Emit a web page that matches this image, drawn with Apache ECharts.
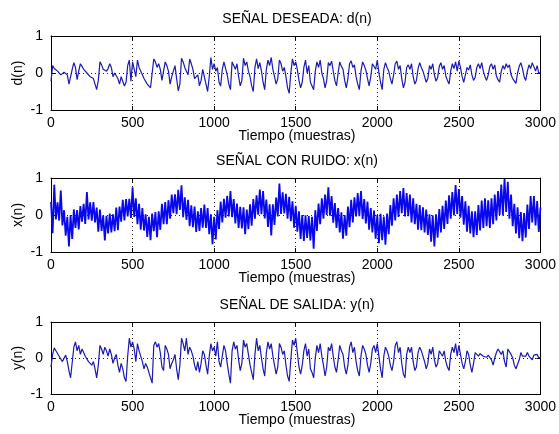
<!DOCTYPE html>
<html>
<head>
<meta charset="utf-8">
<script src="https://cdn.jsdelivr.net/npm/echarts@6/dist/echarts.min.js"></script>
<style>
  html, body { margin: 0; padding: 0; background: #fff; }
  #chart { width: 559px; height: 434px; }
</style>
</head>
<body>
<div id="chart"></div>
<script>
// muestras cada STEP puntos
const STEP = 10

const dVals = [
  -0.22, 0.20, 0.12, 0.15, 0.05, 0.08, -0.05, -0.10, 0.02, 0.05,
  -0.05, -0.30, -0.35, 0.10, 0.28, 0.15, -0.18, 0.05, 0.25, 0.18,
  0.10, 0.12, 0.00, -0.05, -0.10, -0.08, -0.15, -0.30, -0.45, -0.20,
  0.30, 0.22, 0.10, 0.15, 0.05, 0.12, 0.25, 0.15, -0.10, 0.00,
  0.05, -0.15, -0.30, -0.10, -0.05, -0.35, -0.25, 0.20, 0.35, -0.22,
  0.30, 0.25, -0.10, 0.35, 0.15, 0.10, -0.05, -0.15, -0.20, -0.30,
  -0.25, -0.40, -0.45, 0.38, 0.30, 0.15, 0.25, 0.10, -0.20, -0.25,
  0.30, 0.20, 0.05, -0.30, -0.10, -0.05, 0.20, -0.15, -0.48, -0.30,
  0.40, 0.30, 0.15, 0.05, -0.05, 0.38, 0.25, 0.10, -0.15, -0.20,
  -0.05, -0.35, -0.20, 0.10, 0.15, -0.30, -0.50, -0.10, 0.42, 0.10,
  0.25, 0.05, 0.15, -0.25, -0.35, 0.10, 0.30, 0.35, -0.05, -0.30,
  -0.45, 0.30, 0.20, 0.10, 0.25, -0.10, -0.35, -0.20, 0.40, 0.20,
  0.30, 0.05, -0.10, -0.35, -0.50, 0.15, 0.38, 0.12, 0.28, 0.05,
  -0.25, -0.45, 0.10, 0.35, 0.20, 0.42, 0.10, -0.10, -0.30, -0.15,
  0.35, 0.25, 0.05, 0.15, -0.10, -0.40, -0.55, 0.00, 0.38, 0.20,
  0.30, 0.10, -0.20, -0.40, -0.25, 0.15, 0.35, 0.00, 0.20, -0.25,
  -0.35, -0.45, 0.05, 0.30, 0.15, 0.35, 0.00, -0.15, -0.40, -0.20,
  0.28, 0.20, 0.32, 0.05, -0.20, -0.35, 0.00, 0.30, 0.18, 0.10,
  -0.20, -0.40, -0.15, 0.25, 0.33, 0.15, 0.22, -0.10, -0.30, -0.45,
  0.05, 0.30, 0.20, 0.08, -0.15, -0.35, -0.10, 0.25, 0.30, 0.10,
  0.35, 0.00, -0.25, -0.45, 0.10, 0.28, 0.15, 0.05, -0.15, -0.30,
  -0.05, 0.25, 0.32, 0.10, 0.20, -0.15, -0.40, -0.25, 0.15, 0.22,
  0.10, 0.25, -0.10, -0.30, -0.20, 0.12, 0.28, 0.15, 0.05, -0.10,
  -0.25, -0.15, 0.20, 0.10, 0.25, -0.05, -0.22, -0.12, 0.18, 0.28,
  0.10, 0.20, -0.08, -0.20, -0.30, 0.05, 0.25, 0.12, 0.30, 0.05,
  0.32, 0.15, -0.10, -0.25, -0.05, 0.15, 0.08, 0.22, -0.05, -0.20,
  -0.12, 0.15, 0.25, 0.12, 0.28, 0.05, -0.10, -0.20, -0.05, 0.18,
  0.25, 0.10, 0.22, -0.08, -0.18, -0.25, 0.05, 0.20, 0.10, 0.25,
  0.15, 0.22, -0.05, -0.15, -0.20, -0.28, 0.00, 0.18, 0.28, 0.12,
  -0.10, -0.20, 0.05, 0.22, 0.12, 0.28, 0.30, 0.05, 0.20, -0.02,
  0.02
]

const xVals = [
  0.35, -0.49, 0.82, -0.12, 0.34, -0.15, 0.66, -0.28, 0.13, -0.56,
  -0.05, -0.85, 0.00, -0.65, 0.15, -0.35, 0.13, -0.39, 0.24, -0.18,
  0.30, -0.24, 0.62, -0.12, 0.34, -0.15, 0.35, -0.20, 0.20, -0.45,
  0.15, -0.43, -0.01, -0.69, -0.02, -0.50, 0.04, -0.47, 0.02, -0.44,
  0.20, -0.41, 0.23, -0.18, 0.41, -0.15, 0.43, -0.04, 0.44, -0.08,
  0.75, -0.05, 0.45, -0.25, 0.30, -0.40, 0.19, -0.42, 0.02, -0.59,
  -0.05, -0.68, 0.04, -0.44, 0.08, -0.60, 0.10, -0.40, 0.30, -0.25,
  0.35, -0.25, 0.40, -0.10, 0.55, 0.05, 0.56, 0.02, 0.68, 0.14,
  0.80, -0.06, 0.48, -0.13, 0.41, -0.30, 0.26, -0.33, 0.23, -0.46,
  0.10, -0.43, 0.19, -0.34, 0.28, -0.35, 0.19, -0.52, 0.02, -0.79,
  -0.05, -0.66, 0.13, -0.38, 0.36, -0.20, 0.44, -0.07, 0.52, -0.04,
  0.65, -0.06, 0.43, -0.23, 0.31, -0.35, 0.22, -0.36, 0.21, -0.52,
  0.15, -0.38, 0.29, -0.29, 0.43, -0.10, 0.53, 0.01, 0.69, 0.02,
  0.65, -0.09, 0.42, -0.32, 0.29, -0.55, 0.29, -0.27, 0.47, -0.04,
  0.85, 0.03, 0.61, 0.04, 0.57, -0.10, 0.49, -0.17, 0.37, -0.34,
  0.25, -0.45, 0.10, -0.65, 0.00, -0.70, -0.01, -0.62, -0.03, -0.69,
  -0.05, -0.91, 0.13, -0.43, 0.31, -0.25, 0.45, -0.10, 0.55, 0.00,
  0.75, -0.02, 0.51, -0.21, 0.32, -0.35, 0.19, -0.47, 0.07, -0.64,
  0.00, -0.56, 0.23, -0.33, 0.41, -0.20, 0.48, -0.04, 0.59, -0.03,
  0.65, -0.11, 0.43, -0.23, 0.36, -0.40, 0.19, -0.47, 0.12, -0.64,
  0.00, -0.76, 0.03, -0.68, -0.04, -0.80, 0.04, -0.52, 0.27, -0.29,
  0.45, -0.15, 0.55, -0.05, 0.65, 0.05, 0.73, -0.04, 0.59, -0.03,
  0.55, -0.20, 0.45, -0.25, 0.30, -0.40, 0.27, -0.41, 0.21, -0.47,
  0.15, -0.54, 0.02, -0.72, -0.01, -0.85, 0.02, -0.61, 0.16, -0.47,
  0.25, -0.38, 0.39, -0.24, 0.53, -0.10, 0.62, -0.01, 0.81, 0.03,
  0.70, -0.07, 0.51, -0.26, 0.37, -0.45, 0.25, -0.50, 0.10, -0.60,
  0.10, -0.54, 0.27, -0.42, 0.39, -0.35, 0.45, -0.30, 0.40, -0.35,
  0.45, -0.25, 0.55, -0.15, 0.65, 0.00, 0.82, -0.01, 0.98, 0.08,
  0.90, -0.10, 0.55, -0.30, 0.30, -0.50, 0.21, -0.63, 0.08, -0.71,
  0.05, -0.61, 0.28, -0.38, 0.51, -0.20, 0.51, -0.28, 0.38, -0.46,
  0.20
]

const yVals = [
  -0.25, 0.10, 0.28, 0.20, 0.15, 0.05, 0.10, -0.10, -0.05, 0.08,
  -0.10, -0.35, -0.55, -0.50, 0.30, 0.45, 0.20, 0.35, 0.10, 0.25,
  0.15, 0.05, 0.10, -0.10, -0.05, -0.20, -0.10, -0.30, -0.55, -0.20,
  0.35, 0.25, 0.10, 0.30, 0.20, 0.05, 0.25, 0.10, -0.15, 0.00,
  0.10, -0.20, -0.40, -0.15, -0.30, -0.55, -0.65, 0.05, 0.55, 0.30,
  0.45, 0.25, -0.10, 0.40, 0.20, 0.05, -0.10, -0.30, -0.15, -0.25,
  -0.40, -0.55, -0.70, 0.35, 0.45, 0.30, 0.40, 0.15, -0.25, -0.35,
  0.35, 0.25, 0.10, -0.30, -0.15, -0.05, 0.10, -0.30, -0.60, -0.20,
  0.55, 0.40, 0.20, 0.55, 0.10, 0.30, 0.20, 0.05, -0.20, -0.35,
  -0.10, -0.40, -0.15, 0.20, 0.10, -0.20, -0.45, 0.05, 0.40, 0.20,
  0.30, 0.05, 0.45, -0.10, -0.25, 0.05, 0.35, 0.20, -0.15, -0.45,
  -0.70, 0.20, 0.45, 0.25, 0.35, -0.05, -0.35, -0.15, 0.50, 0.30,
  0.40, 0.10, -0.20, -0.40, -0.60, 0.10, 0.55, 0.20, 0.35, 0.00,
  -0.30, -0.50, 0.15, 0.45, 0.25, 0.40, 0.05, -0.20, -0.45, -0.25,
  0.40, 0.30, 0.10, 0.20, -0.20, -0.50, -0.65, -0.05, 0.50, 0.35,
  0.55, 0.15, -0.25, -0.45, -0.20, 0.20, 0.40, 0.05, 0.25, -0.30,
  -0.40, -0.55, 0.00, 0.35, 0.15, 0.40, 0.05, -0.20, -0.50, -0.25,
  0.30, 0.20, 0.40, 0.05, -0.25, -0.40, -0.05, 0.35, 0.20, 0.10,
  -0.25, -0.45, -0.20, 0.30, 0.45, 0.15, 0.30, -0.10, -0.35, -0.50,
  0.05, 0.35, 0.25, 0.10, -0.20, -0.40, -0.15, 0.25, 0.35, 0.15,
  0.40, 0.05, -0.30, -0.55, 0.05, 0.30, 0.20, 0.05, -0.20, -0.35,
  -0.10, 0.35, 0.45, 0.15, 0.30, -0.15, -0.45, -0.55, 0.10, 0.30,
  0.15, 0.30, -0.10, -0.35, -0.25, 0.15, 0.30, 0.20, 0.05, -0.10,
  -0.30, -0.15, 0.25, 0.10, 0.30, -0.05, -0.25, -0.15, 0.20, 0.25,
  0.05, 0.20, -0.10, -0.25, -0.35, 0.10, 0.30, 0.15, 0.40, 0.05,
  0.35, 0.10, -0.15, -0.30, -0.10, 0.20, 0.10, -0.20, -0.40, -0.15,
  0.15, 0.10, 0.05, 0.12, 0.08, 0.05, 0.10, 0.02, 0.08, 0.05,
  -0.05, -0.20, 0.00, 0.15, 0.25, 0.30, 0.10, 0.20, -0.10, -0.25,
  0.25, 0.30, 0.10, 0.00, -0.20, -0.30, -0.35, -0.05, 0.15, 0.05,
  0.10, 0.05, 0.15, 0.05, 0.10, -0.05, 0.08, 0.05, 0.10, 0.00,
  0.02
]

const titles = ['SEÑAL DESEADA: d(n)', 'SEÑAL CON RUIDO: x(n)', 'SEÑAL DE SALIDA: y(n)']
const yNames = ['d(n)', 'x(n)', 'y(n)']
const xName = 'Tiempo (muestras)'
const signals = [dVals, xVals, yVals]
const lineColors = ['#1a1ab4', '#0808ee', '#1a1ab4']
const lineWidths = [1.2, 1.8, 1.2]

const FONT = '"Liberation Sans", Arial, sans-serif'
const grids = [
  { left: 51, right: 16, top: 36, height: 74 },
  { left: 51, right: 16, top: 178, height: 74 },
  { left: 51, right: 16, top: 322, height: 72 }
]

const xAxis = []
const yAxis = []
const series = []
const graphic = []
const dotted = { show: true, lineStyle: { color: '#222', type: [1, 3], width: 1 } }

grids.forEach((g, i) => {
  const common = {
    gridIndex: i,
    axisLine: { show: true, onZero: false, lineStyle: { color: '#000', width: 1 } },
    axisTick: { show: true, inside: true, length: 4, lineStyle: { color: '#000' } }
  }
  xAxis.push(Object.assign({}, common, {
    type: 'value', position: 'bottom', min: 0, max: 3000, interval: 500,
    axisLabel: { color: '#000', fontSize: 14, fontFamily: FONT, margin: 6, formatter: (v) => String(v) },
    splitLine: dotted
  }))
  xAxis.push(Object.assign({}, common, {
    type: 'value', position: 'top', min: 0, max: 3000, interval: 500,
    axisLabel: { show: false }, splitLine: { show: false }
  }))
  yAxis.push(Object.assign({}, common, {
    type: 'value', position: 'left', min: -1, max: 1, interval: 1,
    axisLabel: { color: '#000', fontSize: 14, fontFamily: FONT, margin: 8, formatter: (v) => String(v) },
    splitLine: dotted
  }))
  yAxis.push(Object.assign({}, common, {
    type: 'value', position: 'right', min: -1, max: 1, interval: 1,
    axisLabel: { show: false }, splitLine: { show: false }
  }))
  series.push({
    type: 'line',
    xAxisIndex: 2 * i,
    yAxisIndex: 2 * i,
    showSymbol: false,
    data: signals[i].map((v, k) => [k * STEP, v]),
    lineStyle: { color: lineColors[i], width: lineWidths[i] },
    z: 1
  })
  const cx = 51 + (559 - 51 - 16) / 2
  graphic.push({
    type: 'text', x: cx, y: g.top - 17,
    style: { text: titles[i], fill: '#000', font: '14px ' + FONT, align: 'center', verticalAlign: 'middle' }
  })
  graphic.push({
    type: 'text', x: cx, y: g.top + g.height + 26,
    style: { text: xName, fill: '#000', font: '14px ' + FONT, align: 'center', verticalAlign: 'middle' }
  })
  graphic.push({
    type: 'text', x: 18, y: g.top + g.height / 2, rotation: Math.PI / 2,
    style: { text: yNames[i], fill: '#000', font: '14px ' + FONT, align: 'center', verticalAlign: 'middle' }
  })
})

const chart = echarts.init(document.getElementById('chart'))
chart.setOption({
  backgroundColor: '#fff',
  animation: false,
  grid: grids,
  xAxis,
  yAxis,
  series,
  graphic
})
</script>
</body>
</html>
